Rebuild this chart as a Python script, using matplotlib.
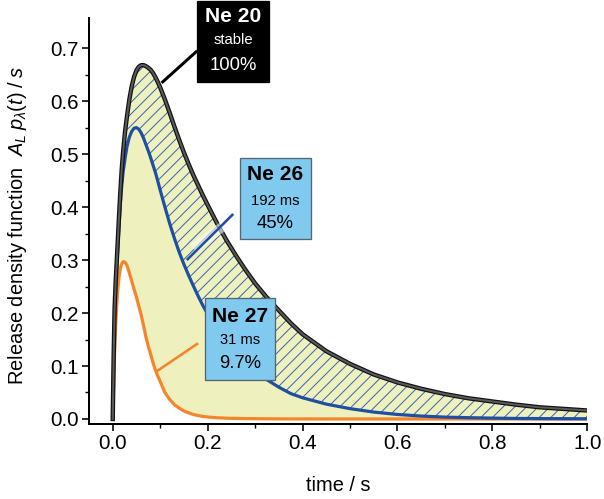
import numpy as np
import matplotlib
matplotlib.use("Agg")
import matplotlib.pyplot as plt
from matplotlib.patches import Rectangle

plt.rcParams['font.family'] = ['Liberation Sans', 'DejaVu Sans']
plt.rcParams['mathtext.fontset'] = 'custom'
plt.rcParams['mathtext.rm'] = 'Liberation Sans'
plt.rcParams['mathtext.it'] = 'Liberation Sans:italic'
plt.rcParams['mathtext.bf'] = 'Liberation Sans:bold'
plt.rcParams['hatch.linewidth'] = 1.0

# ---------------- data ----------------
time_s = [0, 0.002, 0.004, 0.006, 0.008, 0.01, 0.013, 0.016, 0.019, 0.022,
          0.026, 0.03, 0.035, 0.04, 0.045, 0.05, 0.055, 0.06, 0.065, 0.07,
          0.075, 0.08, 0.085, 0.09, 0.095, 0.1, 0.11, 0.12, 0.13, 0.14,
          0.15, 0.16, 0.17, 0.18, 0.19, 0.2, 0.22, 0.24, 0.26, 0.28,
          0.3, 0.325, 0.35, 0.375, 0.4, 0.45, 0.5, 0.55, 0.6, 0.65,
          0.7, 0.75, 0.8, 0.85, 0.9, 0.95, 1.0]

ne20 = [0, 0.12, 0.21, 0.255, 0.29, 0.325, 0.378, 0.428, 0.472, 0.506,
        0.543, 0.571, 0.603, 0.628, 0.646, 0.658, 0.665, 0.668, 0.668, 0.666,
        0.663, 0.659, 0.653, 0.645, 0.636, 0.626, 0.603, 0.578, 0.552, 0.527,
        0.503, 0.481, 0.460, 0.441, 0.422, 0.404, 0.369, 0.337, 0.308, 0.281,
        0.256, 0.229, 0.205, 0.181, 0.160, 0.128, 0.104, 0.084, 0.069, 0.057,
        0.047, 0.039, 0.033, 0.027, 0.022, 0.019, 0.016]

ne26 = [0, 0.115, 0.20, 0.245, 0.28, 0.312, 0.36, 0.405, 0.44, 0.467,
        0.492, 0.514, 0.532, 0.543, 0.549, 0.550, 0.547, 0.540, 0.530, 0.518,
        0.506, 0.493, 0.479, 0.465, 0.449, 0.432, 0.400, 0.369, 0.341, 0.315,
        0.292, 0.271, 0.251, 0.232, 0.214, 0.198, 0.170, 0.146, 0.125, 0.107,
        0.091, 0.074, 0.060, 0.048, 0.040, 0.028, 0.0195, 0.013, 0.0085, 0.0055,
        0.0035, 0.0024, 0.0016, 0.001, 0.0007, 0.0005, 0.0003]

ne27 = [0, 0.065, 0.128, 0.172, 0.208, 0.236, 0.266, 0.284, 0.293, 0.297,
        0.296, 0.290, 0.276, 0.260, 0.245, 0.230, 0.213, 0.196, 0.176, 0.155,
        0.137, 0.122, 0.106, 0.092, 0.081, 0.071, 0.0495, 0.037, 0.027, 0.0205,
        0.015, 0.0115, 0.0085, 0.0064, 0.0048, 0.0037, 0.0023, 0.0015, 0.001, 0.0007,
        0.0005, 0.0003, 0.0002, 0.0001, 0.0001, 0, 0, 0, 0, 0,
        0, 0, 0, 0, 0, 0, 0]

x_ticks = [0.0, 0.2, 0.4, 0.6, 0.8, 1.0]
y_ticks = [0.0, 0.1, 0.2, 0.3, 0.4, 0.5, 0.6, 0.7]

labels = {
    'Ne20': ("Ne 20", "stable", "100%"),
    'Ne26': ("Ne 26", "192 ms", "45%"),
    'Ne27': ("Ne 27", "31 ms", "9.7%"),
}

# ---------------- styles ----------------
W, H, DPI = 604, 499, 70
c_black = '#111111'
c_grey = '#5a5a5a'
c_blue = '#1f4fa0'
c_hatch = '#3563b5'
c_orange = '#f5842a'
c_yellow = '#eef1bd'
c_box = '#80c9ef'
c_boxedge = '#55656f'

def pt(px):
    return px * 72.0 / DPI

t = np.array(time_s)
y20 = np.array(ne20)
y26 = np.array(ne26)
y27 = np.array(ne27)

fig = plt.figure(figsize=(W / DPI, H / DPI), dpi=DPI)
left, right, top, bottom = 89, 587.3, 18, 424
ax = fig.add_axes([left / W, 1 - bottom / H, (right - left) / W, (bottom - top) / H])

ax.fill_between(t, y27, y20, facecolor=c_yellow, edgecolor='none', lw=0, zorder=1)
ax.fill_between(t, y26, y20, facecolor='none', hatch='//', edgecolor=c_hatch, lw=0, zorder=2)

ax.plot(t, y27, color=c_orange, lw=pt(3.2), zorder=4, solid_joinstyle='round')
ax.plot(t, y26, color=c_blue, lw=pt(3.2), zorder=5, solid_joinstyle='round')
ax.plot(t, y20, color=c_black, lw=pt(4.4), zorder=6, solid_joinstyle='round')
ax.plot(t, y20, color=c_grey, lw=pt(2.0), zorder=7, solid_joinstyle='round')

ax.set_xlim(-0.05, 1.0)
ax.set_ylim(-0.0095, 0.757)
ax.set_xticks(x_ticks)
ax.set_yticks(y_ticks)
ax.set_xticklabels([f"{v:.1f}" for v in x_ticks])
ax.set_yticklabels([f"{v:.1f}" for v in y_ticks])
ax.set_xticks(np.arange(0.1, 1.0, 0.2), minor=True)
ax.set_yticks(np.arange(0.05, 0.75, 0.1), minor=True)
for s in ['top', 'right']:
    ax.spines[s].set_visible(False)
for s in ['left', 'bottom']:
    ax.spines[s].set_linewidth(pt(2))
ax.tick_params(which='major', direction='out', length=pt(7), width=pt(1.6),
               labelsize=pt(20.5), pad=pt(3))
ax.tick_params(which='minor', direction='out', length=pt(4), width=pt(1.4))

ax.set_xlabel("time / s", fontsize=pt(20), va='center')
ax.xaxis.set_label_coords(0.5, (bottom - 485) / (bottom - top))
ax.set_ylabel(r"Release density function  $A_L\;p_\lambda(t)\;/\;s$",
              fontsize=pt(20), va='center')
ax.yaxis.set_label_coords((18 - left) / (right - left), 0.49)

# leader lines (data coordinates)
ax.plot([0.103, 0.178], [0.6345, 0.695], color='black', lw=pt(3), zorder=8,
        solid_capstyle='butt')
ax.plot([0.17, 0.245], [0.322, 0.372], color='white', lw=pt(10), alpha=0.55,
        zorder=8, solid_capstyle='butt')
ax.plot([0.156, 0.254], [0.30, 0.387], color=c_blue, lw=pt(2.6), zorder=9,
        solid_capstyle='butt')
ax.plot([0.091, 0.180], [0.089, 0.143], color=c_orange, lw=pt(2.6), zorder=8,
        solid_capstyle='butt')

def fx(x):
    return x / W

def fy(y):
    return 1 - y / H

def box(x0, x1, y0, y1, fc, ec, lines, ys, xc, tc):
    fig.patches.append(Rectangle((fx(x0), fy(y1)), fx(x1) - fx(x0), fy(y0) - fy(y1),
                                 transform=fig.transFigure, facecolor=fc,
                                 edgecolor=ec, lw=pt(1.3), zorder=20))
    sizes = [pt(21), pt(14.8), pt(18.5)]
    weights = ['bold', 'normal', 'normal']
    for txt, yy, sz, wt in zip(lines, ys, sizes, weights):
        fig.text(fx(xc), fy(yy), txt, ha='center', va='center', fontsize=sz,
                 fontweight=wt, color=tc, zorder=21)

box(197.3, 269, 1, 82.3, 'black', 'black', labels['Ne20'], [16, 40.5, 66], 233, 'white')
box(240, 310.7, 158.3, 239.3, c_box, c_boxedge, labels['Ne26'], [174.3, 200.7, 223.3], 275.3, 'black')
box(205, 275, 298.3, 380, c_box, c_boxedge, labels['Ne27'], [316, 339.5, 363.3], 240, 'black')

fig.savefig("out.png", dpi=DPI)
